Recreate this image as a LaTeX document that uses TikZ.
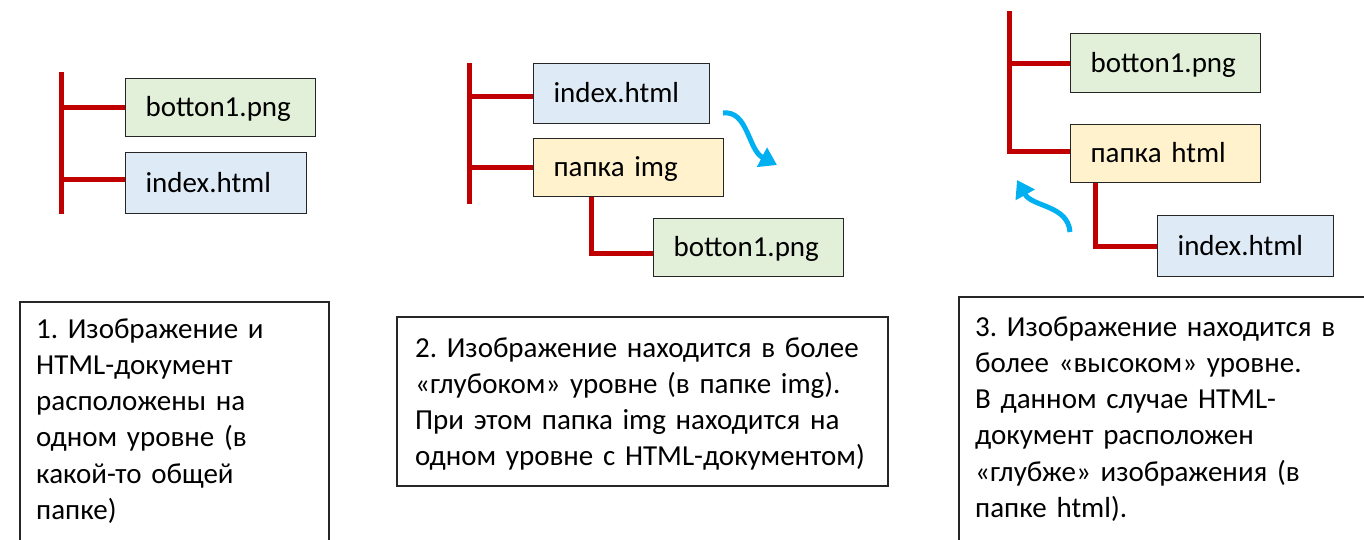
\documentclass[tikz,border=0pt]{standalone}
\usepackage{fontspec}
\setmainfont{Carlito}
\usetikzlibrary{arrows.meta}
\definecolor{treered}{HTML}{C00000}
\definecolor{fgreen}{HTML}{E2F0D9}
\definecolor{fblue}{HTML}{DEEBF7}
\definecolor{fyellow}{HTML}{FFF2CC}
\definecolor{arrowblue}{HTML}{00B0F0}
\frenchspacing
\begin{document}
\begin{tikzpicture}[x=1pt,y=-1pt,
  filebox/.style={draw=black!85, line width=1.2pt, anchor=north west, inner xsep=20pt, inner ysep=0pt,
    align=left, text height=22pt, text depth=4pt, font=\fontsize{29}{34}\selectfont},
  branch/.style={draw=treered, line width=5pt},
  frame/.style={draw=black!85, line width=1.1pt},
  note/.style={anchor=base west, align=left, inner sep=0pt, font=\fontsize{29}{36.3}\selectfont},
  jump/.style={draw=arrowblue, line width=5pt, -{Triangle[length=17pt,width=21pt]}}]
\useasboundingbox (0,0) rectangle (1364,539);
\clip (0,0) rectangle (1364,539);

% ---------- panel 1 ----------
\node[filebox, fill=fgreen, text width=150pt, minimum height=58pt] (png1) at (125,78) {botton1.png};
\node[filebox, fill=fblue, text width=141pt, minimum height=61pt] (idx1) at (125,152) {index.html};
\coordinate (v1top) at (61,72);
\coordinate (v1bot) at (61,214);
\coordinate (i1b) at ([yshift=4pt]idx1.west);
\draw[branch] (v1top) -- (v1bot);
\draw[branch] (v1top |- png1.west) -- (png1.west);
\draw[branch] (v1top |- i1b) -- (i1b);

% ---------- panel 2 ----------
\node[filebox, fill=fblue, text width=136pt, minimum height=60pt] (idx2) at (533,63) {index.html};
\node[filebox, fill=fyellow, text width=150pt, minimum height=58pt] (img2) at (533,138) {папка img};
\node[filebox, fill=fgreen, text width=150pt, minimum height=58pt] (png2) at (653,218) {botton1.png};
\coordinate (v2top) at (469,63);
\coordinate (v2bot) at (469,204);
\coordinate (i2b) at ([yshift=-3pt]idx2.west);
\coordinate (p2b) at ([yshift=-6pt]png2.west);
\draw[branch] (v2top) -- (v2bot);
\draw[branch] (v2top |- i2b) -- (i2b);
\draw[branch] (v2top |- img2.west) -- (img2.west);
\coordinate (s2) at (591,0);
\draw[branch] (img2.south -| s2) |- (p2b);
\coordinate (a2s) at (723,113);
\coordinate (a2e) at (777,165);
\draw[jump] (a2s) .. controls (748,110) and (748,150) .. (a2e);

% ---------- panel 3 ----------
\node[filebox, fill=fgreen, text width=150pt, minimum height=59pt] (png3) at (1070,33) {botton1.png};
\node[filebox, fill=fyellow, text width=150pt, minimum height=58pt] (htm3) at (1070,124) {папка html};
\node[filebox, fill=fblue, text width=136pt, minimum height=61pt] (idx3) at (1157,215) {index.html};
\coordinate (v3top) at (1009,11);
\coordinate (h3b) at ([yshift=2pt]htm3.west);
\draw[branch] (v3top) |- (h3b);
\draw[branch] (v3top |- png3.west) -- (png3.west);
\coordinate (s3) at (1095,0);
\draw[branch] (htm3.south -| s3) |- (idx3.west);
\coordinate (a3s) at (1070,232);
\coordinate (a3e) at (1017,180);
\draw[jump] (a3s) .. controls (1068,205) and (1032,207) .. (a3e);

% ---------- captions ----------
\draw[frame] (20,302) rectangle (329,560);
\node[note, text width=300pt] (n1) at (36,338) {1. Изображение и\\HTML-документ\\расположены на\\одном уровне (в\\какой-то общей\\папке)};
\draw[frame] (397,317) rectangle (888,486);
\node[note, text width=470pt] (n2) at (415,357) {2. Изображение находится в более\\«глубоком» уровне (в папке img).\\При этом папка img находится на\\одном уровне с HTML-документом)};
\draw[frame] (959,297) rectangle (1380,560);
\node[note, text width=390pt] (n3) at (975,336) {3. Изображение находится в\\более «высоком» уровне.\\В данном случае HTML-\\документ расположен\\«глубже» изображения (в\\папке html).};
\end{tikzpicture}
\end{document}
